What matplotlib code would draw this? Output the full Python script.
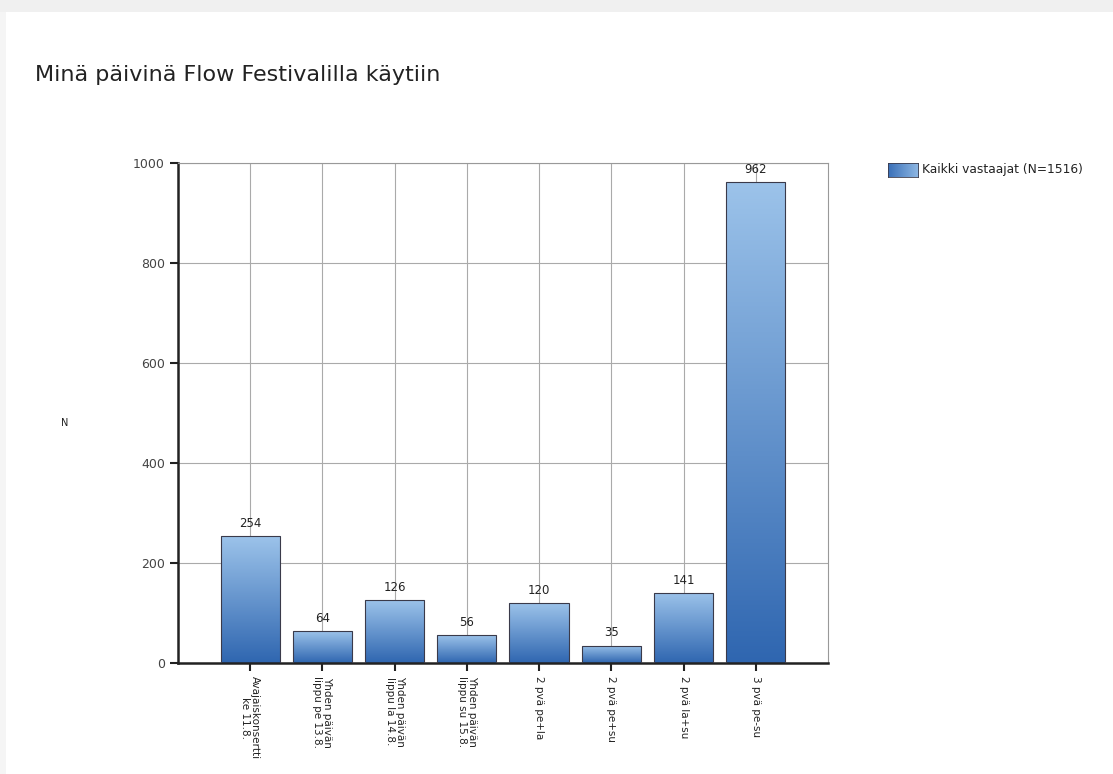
import numpy as np
import matplotlib
matplotlib.use("Agg")
from matplotlib import pyplot as plt
from matplotlib.patches import Rectangle

# Chart data
categories = ["Avajaiskonsertti\nke 11.8.", "Yhden päivän\nlippu pe 13.8.", "Yhden päivän\nlippu la 14.8.",
              "Yhden päivän\nlippu su 15.8.", "2 pvä pe+la", "2 pvä pe+su", "2 pvä la+su", "3 pvä pe-su"]
counts = [254, 64, 126, 56, 120, 35, 141, 962]
yticks = [0, 200, 400, 600, 800, 1000]
series_name = "Kaikki vastaajat (N=1516)"
title = "Minä päivinä Flow Festivalilla käytiin"

fig = plt.figure(figsize=(11.13, 7.74), dpi=100)
fig.patch.set_facecolor("white")

# light grey frame at the top/left like the screenshot
fig.patches.append(Rectangle((0, 0.984), 1, 0.016, transform=fig.transFigure,
                             facecolor="#f0f0f0", edgecolor="none", zorder=0))
fig.patches.append(Rectangle((0, 0), 0.005, 0.984, transform=fig.transFigure,
                             facecolor="#f5f5f5", edgecolor="none", zorder=0))

fig.text(0.031, 0.903, title, fontsize=16, color="#222222", va="center")

ax = fig.add_axes([178 / 1113, 1 - 663 / 774, 650 / 1113, 500 / 774])
x = np.arange(len(categories))
width = 0.82

# gradient fill for each bar
grad = np.linspace(0, 1, 256).reshape(-1, 1)
cmap = matplotlib.colors.LinearSegmentedColormap.from_list("bl", ["#2f66b0", "#9cc3ea"])
bars = ax.bar(x, counts, width=width, color="none", edgecolor="#3a3a4a", linewidth=0.8, zorder=3)
for b in bars:
    x0, y0 = b.get_x(), b.get_y()
    im = ax.imshow(grad, cmap=cmap, aspect="auto", origin="lower",
                   extent=[x0, x0 + b.get_width(), y0, y0 + b.get_height()], zorder=2)
    im.set_clip_path(b)
    ax.text(b.get_x() + b.get_width() / 2, b.get_height() + 12, str(int(b.get_height())),
            ha="center", va="bottom", fontsize=8.5, color="#222222", zorder=4)

ax.set_xlim(-1, len(categories))
ax.set_ylim(0, 1000)
ax.set_yticks(yticks)
ax.set_yticklabels([str(t) for t in yticks], fontsize=9, color="#444444")
ax.set_xticks(x)
ax.set_xticklabels(categories, rotation=270, fontsize=7.5, color="#222222",
                   ha="center", va="top", linespacing=1.0)
ax.grid(True, color="#aaaaaa", linewidth=0.8, zorder=0)
ax.set_axisbelow(True)
ax.tick_params(axis="both", direction="out", length=6, width=1.5, color="#222222")

for side in ["left", "bottom"]:
    ax.spines[side].set_color("#222222")
    ax.spines[side].set_linewidth(1.8)
for side in ["top", "right"]:
    ax.spines[side].set_color("#999999")
    ax.spines[side].set_linewidth(0.8)

fig.text(65 / 1113, 1 - 423 / 774, "N", fontsize=7, color="#222222", ha="center", va="center")

# legend
lax = fig.add_axes([888 / 1113, 1 - 177 / 774, 30 / 1113, 14 / 774])
lax.imshow(np.linspace(0, 1, 64).reshape(1, -1), cmap=matplotlib.colors.LinearSegmentedColormap.from_list(
    "lg", ["#3a70b8", "#8fb8e4"]), aspect="auto")
lax.set_xticks([])
lax.set_yticks([])
for s in lax.spines.values():
    s.set_color("#3a3a4a")
    s.set_linewidth(0.6)
fig.text(922 / 1113, 1 - 170 / 774, series_name, fontsize=8.8, color="#222222", va="center")

fig.savefig("out.png", dpi=100)
